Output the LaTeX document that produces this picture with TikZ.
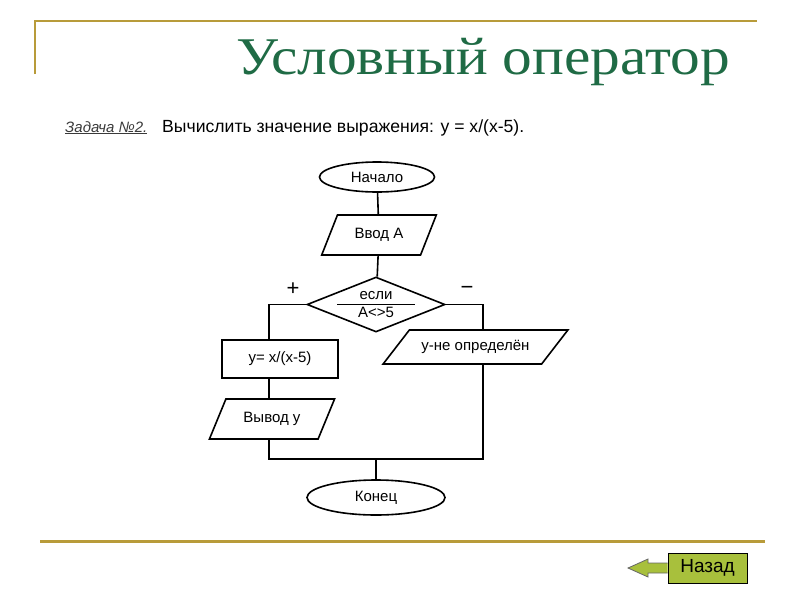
\documentclass[tikz,border=0pt]{standalone}
\usepackage{fontspec}
\setmainfont{Liberation Sans}
\newfontfamily\headfont{Liberation Serif}
\usepackage{graphicx}
\usepackage{tikz}
\usetikzlibrary{arrows.meta, positioning, calc, shapes.geometric}
\definecolor{cHead}{HTML}{1F6B45}
\definecolor{cRule}{HTML}{B89B3A}
\definecolor{cBtn}{HTML}{A8C03C}
\definecolor{cNote}{HTML}{3A3A3A}
\tikzset{
  blk/.style={draw=black, line width=1.6pt, align=center, inner sep=2pt,
    font=\fontsize{15}{17}\selectfont},
  term/.style={blk, ellipse, minimum width=115pt, minimum height=30pt},
  io/.style={blk, trapezium, trapezium left angle=#1, trapezium right angle=180-#1,
    trapezium stretches=true, minimum height=40pt},
  proc/.style={blk, rectangle, minimum width=116pt, minimum height=38pt},
  cond/.style={blk, diamond, shape aspect=2.5, minimum width=138pt, minimum height=55pt, inner sep=0pt},
  link/.style={draw=black, line width=1.6pt},
  sign/.style={font=\fontsize{22}{24}\selectfont},
}

\begin{document}
\begin{tikzpicture}[x=1pt, y=-1pt]
\useasboundingbox (0,0) rectangle (800,600);
% frame rules
\draw[cRule, line width=2pt] (35,74) -- (35,21) -- (757,21);
\draw[cRule, line width=3pt] (40,541) -- (765,541);
% heading
\node[text=cHead, font=\headfont\fontsize{53}{56}\selectfont] (title) at (483,62) {\scalebox{1.12}[1]{Условный оператор}};
\node[text=cNote, font=\itshape\fontsize{15}{17}\selectfont, anchor=base west, inner sep=0pt] (task) at (65,132) {\underline{Задача №2.}};
\node[font=\fontsize{17.6}{19}\selectfont, anchor=base west, inner sep=0pt] (expr) at (162,132) {Вычислить значение выражения: y = x/(x-5).};
% flowchart
\node[term] (start) at (377,177) {Начало};
\node[io=60, minimum width=115pt] (inA) at (379,235) {Ввод А};
\node[cond] (check) at (376,304.5) {если\\[1pt]A<>5};
\draw[line width=1pt] ([xshift=-39pt]check.center) -- ([xshift=39pt]check.center);
\node[sign] (plus) at (293,289) {+};
\node[sign] (minus) at (467,290) {−};
\node[proc] (calc) at (280,359) {y= x/(x-5)};
\node[io=58, minimum width=126pt] (outY) at (272,419) {Вывод y};
\node[io=38, minimum width=185pt, minimum height=34pt] (outNo) at (475.5,347) {y-не определён};
\node[term, minimum width=138pt, minimum height=35pt] (stop) at (376,497.5) {Конец};
\coordinate (lx) at (269,459);
\coordinate (rx) at (483,459);
\coordinate (join) at (376,459);
\draw[link] (start) -- (inA);
\draw[link] (inA) -- (check);
\draw[link] (check.west) -| (calc.north -| lx);
\draw[link] (check.east) -| (outNo.north -| rx);
\draw[link] (calc.south -| lx) -- (outY.north -| lx);
\draw[link] (outY.south -| lx) -- (lx) -- (rx) -- (outNo.south -| rx);
\draw[link] (join) -- (stop);
% back button
\node[draw=black, line width=1pt, fill=cBtn, minimum width=79pt, minimum height=30pt, inner sep=0pt,
  font=\fontsize{19}{21}\selectfont] (back) at (707.5,568) {Назад};
\draw[draw=black!60, line width=0.8pt, fill=cBtn] (back.west |- 0,563) -- (648,563) -- (648,559) -- (628,568)
  -- (648,577) -- (648,573) -- (back.west |- 0,573);
\end{tikzpicture}
\end{document}
